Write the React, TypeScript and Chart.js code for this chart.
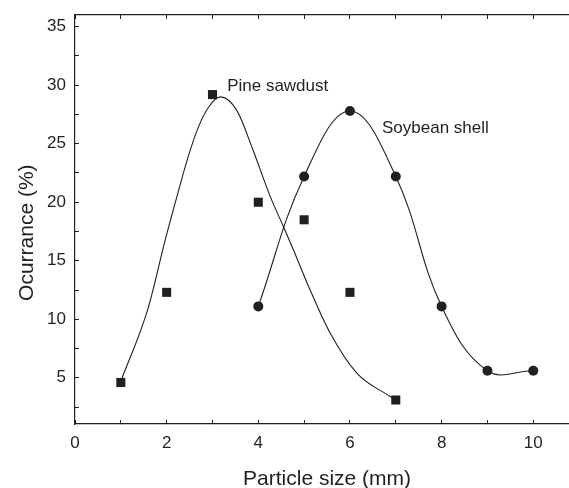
import React, { useEffect, useRef } from 'react';
import { Chart, registerables } from 'chart.js';

Chart.register(...registerables);

// ---- data ----
const pineSizes = [1, 2, 3, 4, 5, 6, 7];
const pineOccurrence = [4.6, 12.3, 29.2, 20.0, 18.5, 12.3, 3.1];

// fitted curve drawn through the pine sawdust data
const pineFitSizes = [1, 1.6, 1.97, 2.26, 2.47, 2.69, 2.91, 3.17, 3.53, 3.89, 4.26, 4.55, 4.77, 5.13, 5.57, 6.15, 6.88, 7];
const pineFitOccurrence = [4.7, 11.0, 16.8, 21.0, 23.9, 26.4, 28.1, 29.0, 27.85, 24.4, 20.5, 17.9, 15.9, 12.5, 8.8, 5.4, 3.4, 3.1];

const soySizes = [4, 5, 6, 7, 8, 9, 10];
const soyOccurrence = [11.1, 22.2, 27.8, 22.2, 11.1, 5.6, 5.6];

const xTickValues = [0, 1, 2, 3, 4, 5, 6, 7, 8, 9, 10];
const xTickLabels = ['0', '', '2', '', '4', '', '6', '', '8', '', '10'];
const yTickValues = [2.5, 5, 7.5, 10, 12.5, 15, 17.5, 20, 22.5, 25, 27.5, 30, 32.5, 35];
const yTickLabels = ['', '5', '', '10', '', '15', '', '20', '', '25', '', '30', '', '35'];

const seriesNames = ['Pine sawdust', 'Soybean shell'];
const xTitle = 'Particle size (mm)';
const yTitle = 'Ocurrance (%)';

const INK = '#231f20';
const FONT = 'Arial, "Liberation Sans", sans-serif';

const textPlugin = {
  id: 'figureTexts',
  afterDraw(chart: any) {
    const { ctx, scales } = chart;
    const x = scales.x;
    const y = scales.y;
    ctx.save();
    ctx.fillStyle = INK;
    ctx.font = `17px ${FONT}`;
    ctx.textAlign = 'left';
    ctx.textBaseline = 'alphabetic';
    ctx.fillText(seriesNames[0], x.getPixelForValue(3.32), y.getPixelForValue(29.5));
    ctx.fillText(seriesNames[1], x.getPixelForValue(6.7), y.getPixelForValue(25.9));

    ctx.font = `21px ${FONT}`;
    ctx.textAlign = 'center';
    ctx.fillText(xTitle, x.getPixelForValue(5.5), chart.height - 3);

    ctx.translate(33, y.getPixelForValue(17.4));
    ctx.rotate(-Math.PI / 2);
    ctx.fillText(yTitle, 0, 0);
    ctx.restore();
  },
};

const zeroPad = (s: any) => {
  s.paddingTop = 0;
  s.paddingBottom = 0;
  s.paddingLeft = 0;
  s.paddingRight = 0;
};

export default function App() {
  const canvasRef = useRef<HTMLCanvasElement | null>(null);

  useEffect(() => {
    if (!canvasRef.current) return;
    const tickFont = { family: FONT, size: 17 };
    const gridOpts = {
      drawOnChartArea: false,
      drawTicks: true,
      tickLength: -4,
      tickColor: INK,
      tickWidth: 1,
    };
    const chart = new Chart(canvasRef.current, {
      type: 'scatter',
      data: {
        datasets: [
          {
            label: seriesNames[0] + ' fit',
            type: 'line',
            data: pineFitSizes.map((v, i) => ({ x: v, y: pineFitOccurrence[i] })),
            borderColor: INK,
            borderWidth: 1.1,
            pointRadius: 0,
            cubicInterpolationMode: 'monotone',
            fill: false,
            showLine: true,
          } as any,
          {
            label: seriesNames[0],
            data: pineSizes.map((v, i) => ({ x: v, y: pineOccurrence[i] })),
            pointStyle: 'rect',
            pointRadius: 6.4,
            backgroundColor: INK,
            borderColor: INK,
            borderWidth: 0,
            showLine: false,
          },
          {
            label: seriesNames[1],
            type: 'line',
            data: soySizes.map((v, i) => ({ x: v, y: soyOccurrence[i] })),
            borderColor: INK,
            borderWidth: 1.1,
            tension: 0.4,
            pointStyle: 'circle',
            pointRadius: 5,
            pointBackgroundColor: INK,
            pointBorderColor: INK,
            pointBorderWidth: 0,
            fill: false,
            showLine: true,
          } as any,
        ],
      },
      options: {
        animation: false,
        responsive: true,
        maintainAspectRatio: false,
        layout: { autoPadding: false, padding: { left: 0, top: 15, right: 0, bottom: 0 } },
        plugins: {
          legend: { display: false },
          tooltip: { enabled: false },
        },
        scales: {
          x: {
            type: 'linear',
            position: 'bottom',
            min: 0,
            max: 10.78,
            afterBuildTicks: (s: any) => {
              s.ticks = xTickValues.map((v) => ({ value: v }));
            },
            afterFit: (s: any) => {
              s.height = 64;
              zeroPad(s);
            },
            ticks: {
              callback: (_v: any, i: number) => xTickLabels[i],
              font: tickFont,
              color: INK,
              padding: 13,
              maxRotation: 0,
              autoSkip: false,
            },
            grid: gridOpts,
            border: { display: true, color: INK, width: 1.2 },
          },
          x2: {
            type: 'linear',
            position: 'top',
            min: 0,
            max: 10.78,
            afterBuildTicks: (s: any) => {
              s.ticks = xTickValues.map((v) => ({ value: v }));
            },
            afterFit: (s: any) => {
              s.height = 0;
              zeroPad(s);
            },
            ticks: { display: false },
            grid: gridOpts,
            border: { display: true, color: INK, width: 1.2 },
          },
          y: {
            type: 'linear',
            position: 'left',
            min: 1.05,
            max: 36,
            afterBuildTicks: (s: any) => {
              s.ticks = yTickValues.map((v) => ({ value: v }));
            },
            afterFit: (s: any) => {
              s.width = 75;
              zeroPad(s);
            },
            ticks: {
              callback: (_v: any, i: number) => yTickLabels[i],
              font: tickFont,
              color: INK,
              padding: 13,
              autoSkip: false,
            },
            grid: gridOpts,
            border: { display: true, color: INK, width: 1.2 },
          },
        },
      } as any,
      plugins: [textPlugin],
    });
    return () => chart.destroy();
  }, []);

  return (
    <div style={{ position: 'absolute', left: 0, top: 0, width: 569, height: 488, background: '#fff' }}>
      <canvas ref={canvasRef} />
    </div>
  );
}
